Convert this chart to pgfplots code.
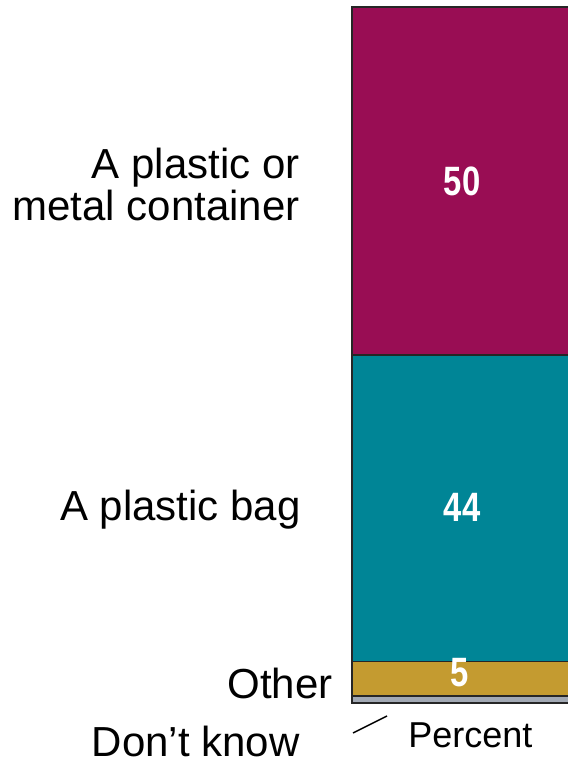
\documentclass[border=0pt]{standalone}
\usepackage{pgfplots}
\pgfplotsset{compat=1.18}
\usepackage{fontspec}
\setmainfont{Liberation Sans}
\definecolor{cPlum}{HTML}{990D54}
\definecolor{cTeal}{HTML}{008596}
\definecolor{cGold}{HTML}{C49B30}
\definecolor{cGrey}{HTML}{A2A9B4}
\newcommand{\num}[1]{\scalebox{0.8}[1]{\fontsize{20.5}{24}\selectfont\bfseries #1}}
\begin{document}
\begin{tikzpicture}
\useasboundingbox (0pt,0pt) rectangle (283.5pt,381.5pt);
% axis box: pixels x 352..567, y 7..703 (0.5pt per pixel)
\begin{axis}[
  at={(176pt,30pt)}, anchor=south west,
  scale only axis, width=107.5pt, height=348pt,
  xmin=0, xmax=1, ymin=0, ymax=100,
  hide axis, clip=false,
  ybar stacked, bar width=230pt, bar shift=0pt,
  every axis plot/.append style={draw=black!85, line width=0.6pt},
]
% bottom to top: don't know, other, plastic bag, container
\addplot[fill=cGrey] coordinates {(1.07,1)};
\addplot[fill=cGold] coordinates {(1.07,5)};
\addplot[fill=cTeal] coordinates {(1.07,44)};
\addplot[fill=cPlum] coordinates {(1.07,50)};
\end{axis}
\begin{scope}[x=0.5pt, y=-0.5pt, shift={(0pt,381.5pt)},
  every node/.style={inner sep=0pt, font=\fontsize{21}{25}\selectfont}]
\node[anchor=base, text=white] at (462,196) {\num{50}};
\node[anchor=base, text=white] at (462,522) {\num{44}};
\node[anchor=base, text=white] at (460,687) {\num{5}};
\node[anchor=base east] at (300,179) {A plastic or};
\node[anchor=base east] at (300,221) {metal container};
\node[anchor=base east] at (301,521) {A plastic bag};
\node[anchor=base east] at (333,699) {Other};
\node[anchor=base east] at (300,757) {Don’t know};
\node[anchor=base west, font=\fontsize{18}{22}\selectfont] at (408,748) {Percent};
\draw[line width=0.75pt] (353,733) -- (387,716);
\end{scope}
\end{tikzpicture}
\end{document}
